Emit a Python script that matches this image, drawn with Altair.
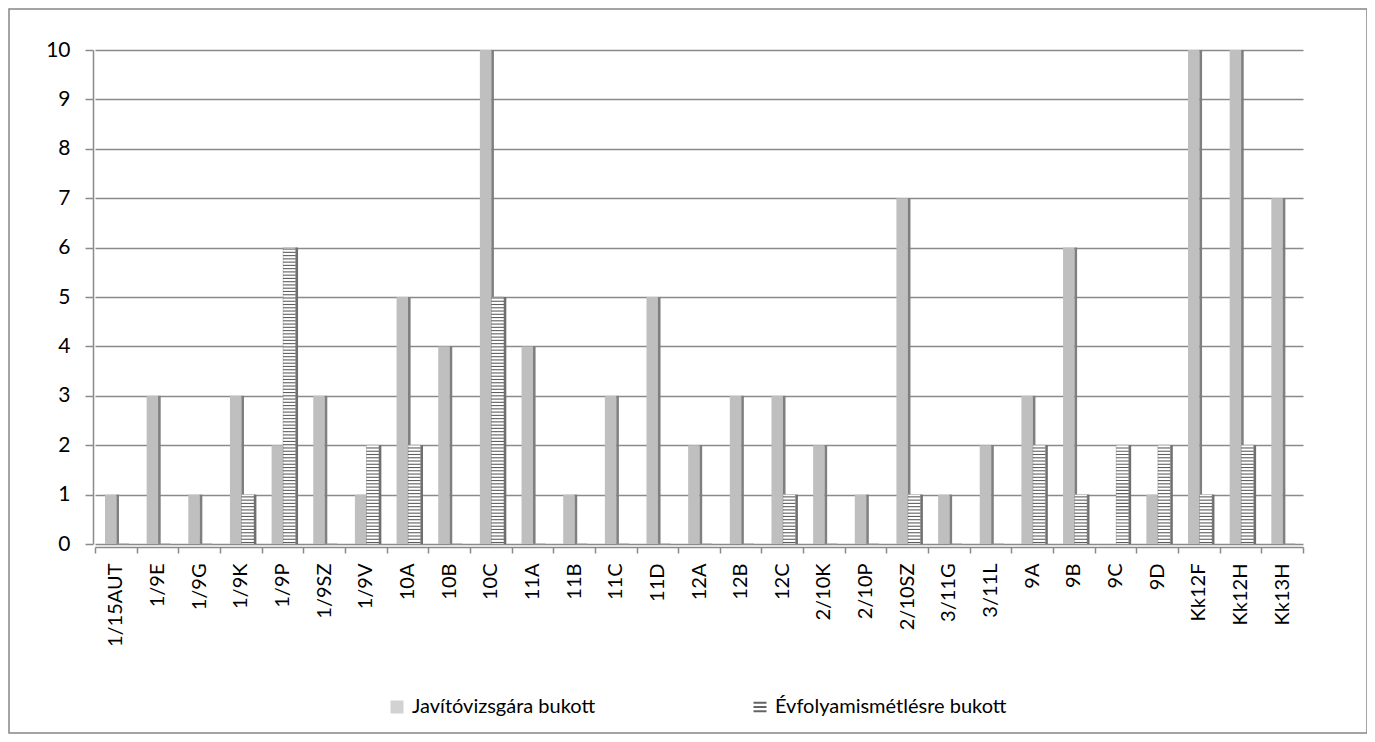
import altair as alt
import pandas as pd

categories = ["1/15AUT", "1/9E", "1/9G", "1/9K", "1/9P", "1/9SZ", "1/9V", "10A", "10B", "10C",
              "11A", "11B", "11C", "11D", "12A", "12B", "12C", "2/10K", "2/10P", "2/10SZ",
              "3/11G", "3/11L", "9A", "9B", "9C", "9D", "Kk12F", "Kk12H", "Kk13H"]
javito = [1, 3, 1, 3, 2, 3, 1, 5, 4, 10,
          4, 1, 3, 5, 2, 3, 3, 2, 1, 7,
          1, 2, 3, 6, 0, 1, 10, 10, 7]
evfolyam = [0, 0, 0, 1, 6, 0, 2, 2, 0, 5,
            0, 0, 0, 0, 0, 0, 1, 0, 0, 1,
            0, 0, 2, 1, 2, 2, 1, 2, 0]
series_names = ["Javítóvizsgára bukott", "Évfolyamismétlésre bukott"]
y_ticks = list(range(0, 11))

J, E = series_names
rows = []
for c, a, b in zip(categories, javito, evfolyam):
    rows.append({"cat": c, "series": J, "v": a})
    rows.append({"cat": c, "series": E, "v": b})
df = pd.DataFrame(rows)

FONT = "Lato"
W, H = 1208, 494

xenc = alt.X("cat:N", sort=categories, title=None,
             scale=alt.Scale(paddingInner=0, paddingOuter=0),
             axis=alt.Axis(labelAngle=-90, labelFontSize=20, labelFont=FONT, labelColor="#000",
                           tickBand="extent", tickSize=6, tickColor="#8a8a8a", domainColor="#8a8a8a",
                           domainWidth=1.5, tickWidth=1.5, labelPadding=10, offset=3, zindex=0))
yscale = alt.Scale(domain=[0, 10], nice=False)
yaxis = alt.Axis(values=y_ticks, labelFontSize=21, labelFont=FONT, labelColor="#000",
                 tickSize=8, tickColor="#8a8a8a", domainColor="#8a8a8a", domainWidth=1.5,
                 tickWidth=1.5, labelPadding=15, offset=2, zindex=0,
                 gridColor="#8a8a8a", gridWidth=1.6)
yenc = alt.Y("v:Q", scale=yscale, title=None, axis=yaxis)

stripe_symbol = "M-1,-0.8H1V-0.5H-1Z M-1,-0.15H1V0.15H-1Z M-1,0.5H1V0.8H-1Z"
legend_kw = dict(title=None, orient="none", legendX=292, legendY=647,
                 direction="horizontal", columns=2, columnPadding=154,
                 labelFontSize=20, labelFont=FONT, labelColor="#000",
                 symbolSize=169, symbolStrokeWidth=0, padding=0,
                 labelOffset=5, labelLimit=400)

base = alt.Chart(df)

frame = alt.Chart(pd.DataFrame({"a": [0]})).mark_rect(
    fill="white", fillOpacity=0, stroke="#868686", strokeWidth=1.5
).encode(x=alt.value(-86), x2=alt.value(1272), y=alt.value(-41), y2=alt.value(683))

legend_layer = base.transform_filter("false").mark_point(filled=True).encode(
    x=xenc, y=yenc,
    color=alt.Color("series:N", scale=alt.Scale(domain=series_names, range=["#BFBFBF", "#222222"]),
                    legend=alt.Legend(**legend_kw)),
    shape=alt.Shape("series:N", scale=alt.Scale(domain=series_names, range=["square", stripe_symbol]),
                    legend=alt.Legend(**legend_kw)),
)

gray_front = base.transform_filter(alt.datum.series == J).mark_bar(
    width=11.5, xOffset=-5.1, color="#BFBFBF"
).encode(x=xenc, y=yenc)

gray_side = base.transform_filter(alt.datum.series == J).mark_bar(
    width=2.6, xOffset=1.9, color="#7F7F7F"
).encode(x=xenc, y=yenc)

stripe_front = base.transform_filter(alt.datum.series == E).mark_bar(
    width=12.5, xOffset=6.9, color="#FFFFFF", stroke="#9a9a9a", strokeWidth=0.5
).encode(x=xenc, y=yenc)

stripe_lines = base.transform_filter(
    (alt.datum.series == E) & (alt.datum.v > 0)
).transform_calculate(
    s="sequence(0.03, datum.v, 0.066)"
).transform_flatten(["s"]).mark_tick(
    orient="horizontal", size=12.5, thickness=1.1, xOffset=6.9, color="#1a1a1a"
).encode(x=xenc, y=alt.Y("s:Q", scale=yscale, title=None, axis=yaxis))

stripe_side = base.transform_filter(alt.datum.series == E).mark_bar(
    width=2.4, xOffset=14.4, color="#6f6f6f"
).encode(x=xenc, y=yenc)

chart = alt.layer(frame, gray_front, gray_side, stripe_front, stripe_lines, stripe_side,
                  legend_layer).properties(
    width=W, height=H,
    autosize=alt.AutoSizeParams(type="none"),
    padding={"left": 87, "top": 42, "right": 64, "bottom": 190},
).configure_view(stroke=None).configure_axis(labelFont=FONT)

chart.save("out.html", embed_options={"renderer": "svg", "actions": False})
